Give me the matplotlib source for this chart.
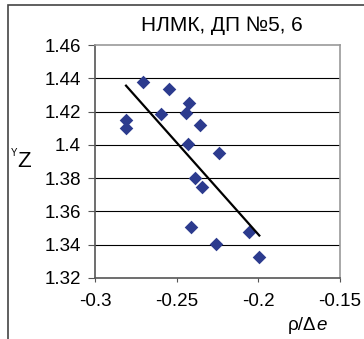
import numpy as np
import matplotlib.pyplot as plt
from matplotlib.patches import Rectangle

plt.rcParams['font.family'] = ['Liberation Sans', 'DejaVu Sans']

# data
x = [-0.2706, -0.2547, -0.2596, -0.2810, -0.2810, -0.2423, -0.2443, -0.2355,
     -0.2431, -0.2243, -0.2386, -0.2345, -0.2412, -0.2257, -0.2059, -0.1994]
y = [1.4378, 1.4336, 1.4185, 1.4149, 1.4101, 1.4250, 1.4191, 1.4119,
     1.4005, 1.3949, 1.3799, 1.3748, 1.3504, 1.3404, 1.3474, 1.3324]
xticks = [-0.3, -0.25, -0.2, -0.15]
yticks = [1.32, 1.34, 1.36, 1.38, 1.4, 1.42, 1.44, 1.46]
title = "НЛМК, ДП №5, 6"

fig = plt.figure(figsize=(3.64, 3.39), dpi=100)
ax = fig.add_axes([0.261, 0.180, 0.673, 0.687])

# outer chart border (right and bottom are cut off in the original)
fig.patches.append(Rectangle((0.022, -0.1), 1.2, 1.085, transform=fig.transFigure,
                             fill=False, edgecolor='#444444', linewidth=1.2))

for v in yticks[1:-1]:
    ax.axhline(v, color='black', linewidth=0.8, zorder=1)

ax.scatter(x, y, marker='D', s=48, color='#2c3b8e', zorder=3, linewidths=0)

# linear trend line over the data range
k, b = np.polyfit(x, y, 1)
xl = np.array([min(x), max(x)])
ax.plot(xl, k * xl + b, color='black', linewidth=1.6, zorder=4)

ax.set_xlim(-0.3, -0.15)
ax.set_ylim(1.32, 1.46)
ax.set_xticks(xticks)
ax.set_xticklabels([f"{v:g}" for v in xticks])
ax.set_yticks(yticks)
ax.set_yticklabels([f"{v:g}" for v in yticks])
ax.tick_params(axis='y', length=5, pad=5, labelsize=13.5, color='#555555')
ax.tick_params(axis='x', length=3, pad=8, labelsize=13.5, color='#555555')

for s in ['left', 'bottom']:
    ax.spines[s].set_color('#555555')
    ax.spines[s].set_linewidth(1.2)
for s in ['right', 'top']:
    ax.spines[s].set_color('#999999')
    ax.spines[s].set_linewidth(1.2)

fig.text(0.61, 0.925, title, ha='center', va='center', fontsize=15)
fig.text(0.868, 0.04, "ρ/Δ", ha='right', va='center', fontsize=13.5)
fig.text(0.868, 0.04, "e", ha='left', va='center', fontsize=13.5, style='italic')
fig.text(0.066, 0.523, "Z", ha='center', va='center', fontsize=16)
fig.text(0.040, 0.548, "Y", ha='center', va='center', fontsize=7)

fig.savefig('out.png', dpi=100)
